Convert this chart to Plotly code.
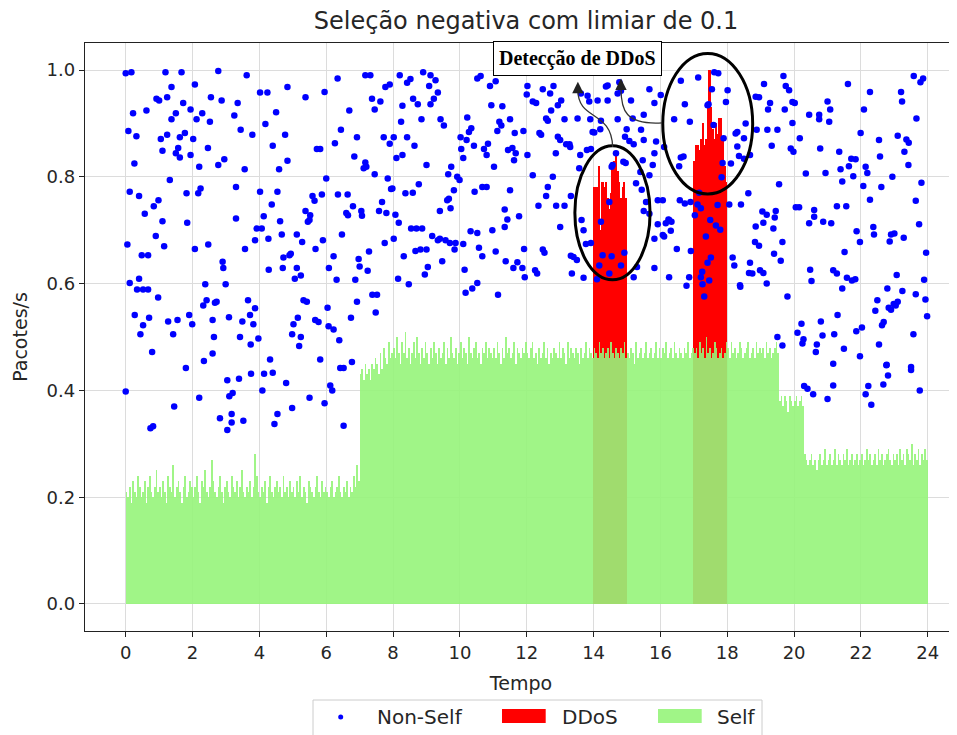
import plotly.graph_objects as go

# ---------------- data ----------------
# Non-Self detections (time, packets/s), left half of the chart
nonself_left = [
 (0.00,0.994),(0.17,0.996),(1.19,0.996),(1.67,0.996),(2.77,0.998),(3.62,0.99),(4.02,0.958),(4.24,0.958),
 (4.84,0.968),(5.38,0.949),(5.95,0.959),(6.34,0.984),(7.17,0.99),(7.32,0.99),(8.20,0.99),(8.42,0.976),
 (8.52,0.983),(8.90,0.996),(9.12,0.99),(9.27,0.981),(9.08,0.97),(9.34,0.958),(10.52,0.984),(10.62,0.989),
 (10.90,0.97),(11.07,0.979),(12.02,0.97),(1.37,0.968),(2.07,0.973),(0.92,0.946),(1.00,0.943),(1.24,0.949),
 (1.72,0.938),(2.55,0.949),(2.87,0.943),(3.35,0.938),(0.22,0.919),(0.62,0.924),(1.94,0.926),(2.29,0.919),
 (1.50,0.919),(1.37,0.908),(2.12,0.908),(2.52,0.903),(3.25,0.915),(4.50,0.921),(4.18,0.899),(3.44,0.888),
 (3.79,0.879),(4.77,0.879),(4.40,0.858),(6.69,0.924),(7.37,0.946),(7.62,0.941),(7.45,0.926),(7.77,0.968),
 (7.90,0.973),(8.28,0.933),(8.60,0.946),(8.74,0.936),(9.12,0.936),(9.22,0.946),(8.24,0.903),(8.85,0.908),
 (9.42,0.908),(9.52,0.896),(10.22,0.911),(10.34,0.891),(10.27,0.884),(10.94,0.934),(11.27,0.932),(11.18,0.903),
 (11.24,0.896),(11.50,0.908),(11.12,0.886),(11.64,0.882),(11.90,0.886),(12.00,0.954),(0.08,0.886),(0.32,0.876),
 (1.05,0.871),(1.24,0.879),(1.62,0.874),(1.77,0.882),(2.02,0.871),(1.10,0.849),(1.57,0.854),(1.50,0.844),
 (1.62,0.836),(1.94,0.841),(2.46,0.854),(2.20,0.819),(2.77,0.822),(2.95,0.833),(0.26,0.825),(3.56,0.814),
 (4.59,0.814),(4.84,0.83),(5.72,0.852),(5.82,0.852),(6.26,0.863),(6.44,0.888),(6.92,0.874),(6.84,0.838),
 (7.17,0.827),(7.12,0.816),(7.20,0.819),(7.45,0.805),(7.72,0.874),(7.90,0.862),(8.02,0.874),(8.42,0.874),
 (8.64,0.858),(8.10,0.835),(8.28,0.841),(9.00,0.822),(10.02,0.874),(10.20,0.869),(10.04,0.852),(10.42,0.858),
 (10.10,0.835),(10.72,0.852),(10.80,0.841),(10.84,0.862),(11.02,0.819),(11.44,0.85),(11.57,0.854),(11.67,0.844),
 (11.62,0.831),(12.02,0.841),(9.65,0.805),(9.74,0.819),(9.92,0.80),(9.99,0.794),(1.32,0.794),(6.00,0.797),
 (7.84,0.797),(0.12,0.772),(0.40,0.764),(0.98,0.756),(0.84,0.745),(0.57,0.731),(1.10,0.717),(1.82,0.769),
 (2.17,0.769),(2.24,0.778),(3.30,0.781),(3.30,0.722),(1.84,0.714),(4.02,0.772),(4.54,0.772),(4.37,0.748),
 (4.13,0.726),(4.62,0.717),(3.92,0.703),(4.07,0.703),(3.87,0.681),(4.27,0.684),(4.67,0.692),(3.57,0.665),
 (5.12,0.692),(5.28,0.678),(5.59,0.764),(5.65,0.755),(5.87,0.767),(5.38,0.736),(5.52,0.728),(5.50,0.719),
 (5.45,0.716),(6.35,0.767),(6.64,0.767),(6.80,0.745),(6.60,0.732),(6.65,0.728),(7.05,0.736),(7.07,0.727),
 (6.47,0.692),(5.90,0.681),(5.68,0.665),(7.67,0.753),(7.58,0.736),(7.80,0.732),(8.07,0.729),(8.17,0.714),
 (7.94,0.777),(7.98,0.778),(8.37,0.769),(8.59,0.77),(8.77,0.786),(7.75,0.676),(8.02,0.684),(8.54,0.703),
 (8.70,0.703),(8.87,0.703),(9.17,0.689),(9.34,0.681),(9.40,0.684),(9.57,0.681),(9.70,0.676),(9.84,0.664),
 (9.87,0.676),(10.10,0.674),(8.67,0.661),(8.82,0.664),(9.00,0.664),(9.40,0.736),(9.62,0.756),(9.72,0.741),
 (9.67,0.759),(9.82,0.775),(10.44,0.772),(10.67,0.781),(10.80,0.781),(11.50,0.775),(11.34,0.739),(11.42,0.72),
 (11.34,0.706),(11.77,0.726),(10.97,0.70),(10.32,0.698),(10.52,0.695),(10.57,0.667),(10.67,0.651),(11.07,0.66),
 (11.92,0.665),(11.37,0.642),(11.72,0.64),(11.60,0.629),(11.87,0.629),(11.94,0.612),(10.14,0.626),(10.17,0.583),
 (10.37,0.591),(10.52,0.601),(11.14,0.579),(0.05,0.673),(0.48,0.653),(0.67,0.653),(1.15,0.67),(0.90,0.689),
 (2.07,0.665),(2.47,0.673),(2.90,0.641),(2.92,0.629),(2.99,0.599),(2.38,0.599),(0.12,0.601),(0.40,0.609),
 (0.34,0.589),(0.52,0.589),(0.67,0.589),(0.97,0.574),(0.27,0.541),(0.52,0.522),(0.70,0.536),(0.44,0.505),
 (0.79,0.472),(1.27,0.529),(1.55,0.532),(1.42,0.505),(1.90,0.541),(1.99,0.524),(2.32,0.559),(2.42,0.569),
 (2.67,0.564),(2.72,0.566),(2.60,0.532),(2.64,0.50),(2.60,0.469),(2.34,0.455),(1.80,0.442),(3.09,0.537),
 (3.49,0.529),(3.72,0.541),(3.87,0.554),(3.82,0.524),(3.66,0.569),(3.42,0.50),(3.74,0.486),(3.97,0.497),
 (4.32,0.458),(4.72,0.649),(4.90,0.653),(4.94,0.656),(4.70,0.629),(4.28,0.626),(5.12,0.629),(5.06,0.609),
 (5.24,0.615),(6.08,0.629),(6.22,0.651),(6.31,0.607),(6.87,0.607),(6.97,0.646),(7.00,0.632),(7.24,0.624),
 (7.28,0.66),(5.32,0.569),(5.42,0.566),(5.15,0.536),(5.02,0.524),(4.98,0.505),(5.24,0.50),(5.19,0.483),
 (5.67,0.532),(5.77,0.528),(6.04,0.555),(6.07,0.52),(6.22,0.514),(6.39,0.494),(5.82,0.458),(6.92,0.566),
 (6.74,0.536),(7.38,0.579),(7.52,0.579),(7.48,0.546),(8.15,0.609),(8.47,0.599),(8.32,0.651),(8.95,0.617),
 (9.04,0.631),(9.47,0.642),(6.42,0.442),(6.52,0.442),(6.77,0.453),
 (0.00,0.398),(2.20,0.386),(1.45,0.37),(0.74,0.329),(0.82,0.333),(2.82,0.348),(3.04,0.419),(3.39,0.422),
 (3.10,0.389),(3.20,0.395),(3.17,0.356),(3.17,0.34),(3.04,0.326),(3.52,0.343),(3.75,0.431),(4.14,0.431),
 (4.40,0.433),(4.09,0.40),(4.80,0.414),(4.54,0.356),(4.45,0.337),(4.98,0.367),(5.50,0.386),(5.95,0.376),
 (6.12,0.409),(6.18,0.40),(6.52,0.334),
]

# Non-Self detections, right half of the chart
nonself_right = [
 (12.48,0.964),(12.70,0.956),(12.80,0.97),(12.18,0.941),(12.28,0.938),(12.93,0.934),(12.73,0.924),(13.03,0.943),
 (12.58,0.909),(12.63,0.905),(13.13,0.908),(13.52,0.909),(12.43,0.879),(12.38,0.882),(12.93,0.875),(13.00,0.869),
 (13.18,0.861),(13.30,0.856),(13.28,0.861),(12.87,0.844),(12.18,0.803),(12.78,0.80),(12.63,0.781),(12.58,0.764),
 (12.35,0.746),(12.88,0.746),(13.13,0.746),(13.32,0.764),(13.00,0.706),(12.48,0.664),(12.53,0.658),(12.25,0.625),
 (12.31,0.619),(13.32,0.652),(13.50,0.644),(13.40,0.65),(13.35,0.619),(13.70,0.611),(13.62,0.956),(13.82,0.952),
 (13.87,0.941),(14.12,0.943),(14.42,0.943),(14.37,0.969),(14.42,0.971),(13.90,0.908),(14.22,0.905),(14.20,0.889),
 (14.02,0.883),(13.97,0.884),(13.80,0.85),(13.92,0.852),(13.57,0.816),(13.60,0.841),(14.72,0.908),(14.99,0.889),
 (14.94,0.875),(15.07,0.867),(15.20,0.861),(14.77,0.977),(15.12,0.943),(14.72,0.956),(14.82,0.961),(15.50,0.916),
 (15.82,0.938),(15.67,0.964),(16.01,0.953),(15.17,0.909),(15.42,0.888),(15.50,0.869),(15.87,0.866),(15.82,0.844),
 (16.11,0.856),(14.96,0.826),(14.89,0.828),(15.47,0.831),(15.40,0.809),(15.77,0.822),(14.57,0.822),(14.54,0.819),
 (14.67,0.844),(15.67,0.803),(15.27,0.788),(15.44,0.776),(15.92,0.756),(16.07,0.756),(15.67,0.731),(15.50,0.736),
 (15.57,0.753),(15.92,0.711),(16.07,0.691),(16.11,0.688),(16.26,0.719),(16.33,0.716),(16.31,0.699),(16.16,0.713),
 (16.24,0.72),(16.58,0.756),(16.73,0.75),(16.90,0.753),(14.47,0.753),(14.22,0.716),(13.64,0.719),(13.70,0.70),
 (13.92,0.676),(13.77,0.674),(14.27,0.653),(14.54,0.651),(14.92,0.658),(14.17,0.634),(14.47,0.619),(14.82,0.634),
 (14.10,0.608),(15.20,0.612),(15.30,0.631),(15.82,0.629),(16.26,0.612),(15.82,0.684),(16.49,0.665),(16.91,0.661),
 (16.86,0.612),(16.78,0.596),(16.61,0.98),(17.13,0.986),(17.61,0.996),(17.73,0.994),(17.54,0.964),(18.01,0.962),
 (17.96,0.94),(16.73,0.936),(16.41,0.908),(16.88,0.903),(17.41,0.934),(17.59,0.897),(17.89,0.872),(18.25,0.881),
 (18.30,0.884),(18.55,0.90),(18.50,0.872),(18.30,0.857),(18.35,0.839),(18.68,0.841),(18.50,0.834),(17.86,0.826),
 (18.11,0.825),(17.83,0.799),(16.61,0.836),(16.69,0.838),(16.56,0.82),(18.85,0.95),(18.95,0.949),(19.10,0.974),
 (19.68,0.989),(19.75,0.97),(19.85,0.962),(19.95,0.94),(20.02,0.938),(19.28,0.938),(19.22,0.926),(19.72,0.926),
 (19.95,0.901),(18.88,0.888),(19.20,0.888),(19.50,0.888),(19.33,0.858),(20.17,0.872),(19.90,0.853),(19.98,0.847),
 (20.45,0.916),(20.75,0.916),(20.75,0.908),(21.05,0.903),(21.08,0.926),(21.00,0.941),(21.61,0.974),(22.27,0.959),
 (22.09,0.926),(21.99,0.882),(22.54,0.869),(22.57,0.838),(23.20,0.959),(23.23,0.941),(23.10,0.877),(23.36,0.87),
 (23.43,0.864),(23.30,0.847),(23.42,0.822),(23.58,0.989),(23.86,0.984),(23.78,0.977),(23.66,0.909),(20.78,0.853),
 (21.35,0.847),(20.35,0.806),(20.94,0.807),(21.39,0.814),(21.64,0.82),(21.71,0.834),(21.84,0.833),(21.77,0.801),
 (21.44,0.791),(22.14,0.819),(22.19,0.807),(22.07,0.783),(22.27,0.757),(22.61,0.781),(22.94,0.80),(23.81,0.789),
 (23.64,0.755),(23.74,0.711),(19.55,0.786),(18.63,0.769),(18.41,0.748),(18.06,0.748),(19.05,0.735),(19.18,0.729),
 (19.45,0.736),(19.42,0.724),(19.38,0.703),(19.08,0.714),(18.85,0.707),(20.05,0.743),(20.15,0.743),(20.60,0.738),
 (20.60,0.725),(20.45,0.713),(20.87,0.716),(21.11,0.713),(21.28,0.745),(21.56,0.745),(21.87,0.698),(21.97,0.678),
 (22.37,0.706),(22.39,0.692),(22.90,0.692),(22.86,0.679),(23.28,0.686),(23.00,0.694),(23.95,0.658),(18.83,0.678),
 (18.95,0.671),(19.65,0.678),(19.40,0.656),(19.60,0.643),(18.16,0.649),(18.21,0.634),(18.68,0.639),(18.65,0.62),
 (18.75,0.619),(18.98,0.625),(19.08,0.62),(18.38,0.597),(18.39,0.594),(19.18,0.60),(19.80,0.576),(20.48,0.626),
 (20.52,0.605),(21.17,0.625),(21.51,0.659),(21.28,0.619),(21.58,0.611),(21.73,0.606),(21.83,0.608),(21.44,0.591),
 (23.07,0.616),(22.79,0.591),(23.24,0.586),(23.64,0.58),(23.89,0.607),(22.49,0.569),(23.10,0.566),(23.04,0.559),
 (22.98,0.562),(22.90,0.551),(22.83,0.555),(22.43,0.549),(22.68,0.528),(22.63,0.522),(23.98,0.539),(23.93,0.57),
 (23.57,0.505),(21.30,0.541),(22.03,0.518),(21.86,0.511),(21.20,0.505),(20.85,0.503),(20.80,0.529),(20.68,0.486),
 (20.65,0.472),(20.22,0.525),(20.10,0.508),(20.28,0.496),(20.25,0.488),(19.50,0.50),(19.65,0.484),(21.17,0.45),
 (21.97,0.464),(22.54,0.486),(22.77,0.448),(23.50,0.444),
 (17.44,0.936),(17.21,0.741),(17.11,0.748),(17.03,0.728),(17.36,0.688),(17.49,0.719),(17.66,0.709),(17.79,0.701),
 (17.51,0.649),(17.41,0.639),(17.25,0.622),(17.21,0.612),(17.26,0.599),(17.31,0.576),(17.46,0.606),(17.71,0.747),
 (17.16,0.77),
 (20.30,0.408),(20.40,0.403),(20.57,0.393),(21.00,0.384),(21.17,0.409),(22.22,0.408),(22.14,0.393),(22.31,0.373),
 (22.67,0.411),(23.76,0.40),(23.50,0.438),(22.76,0.447),(22.81,0.428),(21.49,0.478),
]

# Self traffic, packets/s x100, one value per 0.05 time unit, one row per unit of time (0..24)
self_step = 0.05
self_rows = [
 [21,20,22,19,23,21,20,24,22,20,21,23,19,22,24,21,20,22,25,21],
 [22,20,23,21,19,24,22,21,26,20,22,23,21,19,22,24,20,21,23,22],
 [20,22,24,21,19,23,22,25,21,20,22,27,23,21,20,22,24,21,19,22],
 [23,21,20,24,22,21,23,20,22,25,21,20,22,21,23,20,22,28,24,21],
 [20,22,21,23,19,22,24,21,20,22,23,21,22,20,24,21,22,20,23,21],
 [22,20,23,21,24,20,22,21,19,23,22,21,20,22,24,21,20,23,21,22],
 [21,20,22,23,20,21,22,24,21,20,22,21,23,20,22,21,24,22,26,23],
 [43,44,42,45,43,44,42,45,44,46,45,43,47,44,48,46,45,49,46,47],
 [48,46,50,47,45,49,47,51,46,48,45,47,49,46,50,47,45,48,46,49],
 [47,45,48,46,49,47,45,48,46,47,49,45,48,46,50,47,46,48,45,47],
 [49,46,48,47,45,50,47,46,48,49,46,47,45,48,47,49,46,48,47,46],
 [48,46,49,47,45,48,46,50,47,48,46,47,49,45,48,47,46,48,47,49],
 [47,46,48,49,46,47,45,48,46,47,49,46,48,45,47,46,48,47,46,49],
 [46,48,47,45,49,46,48,47,46,48,47,45,48,46,47,49,46,48,47,46],
 [48,47,46,49,47,48,46,47,48,46,49,47,46,48,47,46,48,47,49,46],
 [47,46,48,47,45,49,46,47,48,46,47,49,46,47,48,46,47,49,46,48],
 [46,48,47,49,46,47,48,46,49,47,46,48,47,46,48,47,49,46,47,48],
 [47,48,46,49,47,48,46,50,47,48,46,47,49,48,46,47,48,46,47,49],
 [48,46,49,47,48,46,47,49,48,46,47,48,49,46,47,48,46,49,47,48],
 [47,48,46,49,47,48,46,47,48,49,47,38,39,37,39,38,36,39,38,37],
 [38,39,37,38,39,37,28,27,26,27,28,26,27,25,27,28,26,27,29,26],
 [27,28,26,27,29,26,28,27,26,28,27,29,26,27,28,26,27,28,26,27],
 [28,26,27,29,27,28,26,27,28,26,29,27,28,26,27,28,29,27,26,28],
 [27,28,26,29,27,28,26,29,28,27,30,26,28,27,29,26,28,27,29,27],
]

# DDoS bursts, packets/s x100, 0.05 time unit per value
ddos1_start = 14.0
ddos1_vals = [78,78,78,82,70,79,78,79,76,74,77,82,83,84,81,79,76,78,79,76]
ddos2_start = 17.0
ddos2_vals = [83,86,86,85,87,90,86,87,94,100,93,89,87,90,88,91,91,87,82,79]

x_ticks = list(range(0, 25, 2))
y_ticks = [0.0, 0.2, 0.4, 0.6, 0.8, 1.0]
legend_labels = ["Non-Self", "DDoS", "Self"]

# ---------------- build traces ----------------
self_vals = [v / 100 for row in self_rows for v in row]
self_x = [i * self_step + self_step / 2 for i in range(len(self_vals))]

d1x = [ddos1_start + i * self_step + self_step / 2 for i in range(len(ddos1_vals))]
d2x = [ddos2_start + i * self_step + self_step / 2 for i in range(len(ddos2_vals))]
ddos_x = d1x + d2x
ddos_y = [v / 100 for v in ddos1_vals + ddos2_vals]

pts = nonself_left + nonself_right
ns_x = [p[0] for p in pts]
ns_y = [p[1] for p in pts]

FONT = "DejaVu Sans"
TXT = "#262626"
SELF_COLOR = "rgba(150,244,122,0.9)"

# page geometry (the page body has an 8px margin)
W, H = 949, 727
ML, MR, MT, MB = 77, 0, 35, 104
PW, PH = W - ML - MR, H - MT - MB


def px(X):  # absolute screen x -> paper x
    return (X - 8 - ML) / PW


def py(Y):  # absolute screen y -> paper y
    return (H - MB - (Y - 8)) / PH


fig = go.Figure()

fig.add_trace(go.Bar(
    x=ddos_x, y=ddos_y, width=self_step, name=legend_labels[1], showlegend=False,
    marker=dict(color="rgb(255,0,0)", line=dict(width=0)),
))
fig.add_trace(go.Bar(
    x=self_x, y=self_vals, width=self_step, name=legend_labels[2], showlegend=False,
    marker=dict(color=SELF_COLOR, line=dict(width=0)),
))
fig.add_trace(go.Scatter(
    x=ns_x, y=ns_y, mode="markers", name=legend_labels[0], showlegend=False,
    marker=dict(color="rgb(0,0,255)", size=6.5, line=dict(width=0)),
))

# ellipses around detections
for (x0, x1, y0, y1) in [(13.44, 15.69, 0.607, 0.858), (16.07, 18.76, 0.768, 1.031)]:
    fig.add_shape(type="circle", xref="x", yref="y", x0=x0, x1=x1, y0=y0, y1=y1,
                  line=dict(color="black", width=3), layer="above")

# curved connectors
fig.add_shape(type="path", xref="x", yref="y",
              path="M 14.57,0.856 C 14.54,0.925 13.53,0.905 13.53,0.962",
              line=dict(color="#333333", width=1.3))
fig.add_shape(type="path", xref="x", yref="y",
              path="M 16.05,0.901 C 14.94,0.897 14.82,0.925 14.82,0.966",
              line=dict(color="#333333", width=1.3))
for tx, ty in [(13.53, 0.978), (14.82, 0.984)]:
    fig.add_annotation(x=tx, y=ty, xref="x", yref="y", ax=0, ay=11, text="",
                       showarrow=True, arrowhead=2, arrowsize=1.9, arrowwidth=1.2,
                       arrowcolor="#222222")

fig.add_annotation(x=13.52, y=1.0215, xref="x", yref="y",
                   text="<b>Detecção de DDoS</b>", showarrow=False,
                   font=dict(family="Liberation Serif", size=20, color="black"),
                   bgcolor="white", bordercolor="black", borderwidth=1, borderpad=5)

# legend (drawn to match the reference layout)
fig.add_shape(type="rect", xref="paper", yref="paper", x0=px(313), x1=px(762),
              y0=py(748), y1=py(700), line=dict(color="#cccccc", width=1),
              fillcolor="white", layer="above")
fig.add_shape(type="circle", xref="paper", yref="paper", x0=px(338.2), x1=px(343.2),
              y0=py(719.5), y1=py(714.5), line=dict(width=0), fillcolor="rgb(0,0,255)",
              layer="above")
fig.add_shape(type="rect", xref="paper", yref="paper", x0=px(502), x1=px(545.7),
              y0=py(723), y1=py(709), line=dict(width=0), fillcolor="rgb(255,0,0)",
              layer="above")
fig.add_shape(type="rect", xref="paper", yref="paper", x0=px(658), x1=px(701.7),
              y0=py(723), y1=py(709), line=dict(width=0), fillcolor=SELF_COLOR,
              layer="above")
for lbl, X in zip(legend_labels, [375, 560, 715]):
    fig.add_annotation(x=px(X), y=py(717), xref="paper", yref="paper", text=lbl,
                       showarrow=False, xanchor="left", yanchor="middle",
                       font=dict(family=FONT, size=20, color=TXT))

fig.update_layout(
    width=W, height=H,
    margin=dict(l=ML, r=MR, t=MT, b=MB, autoexpand=False),
    paper_bgcolor="white", plot_bgcolor="white",
    barmode="overlay", bargap=0,
    font=dict(family=FONT, size=18, color=TXT),
    title=dict(text="Seleção negativa com limiar de 0.1", x=(526 - 8) / W, xref="container",
               xanchor="center", y=1 - 13 / H, yref="container", yanchor="middle",
               font=dict(family=FONT, size=24, color=TXT)),
    showlegend=False,
)
fig.update_xaxes(
    range=[-1.218, 24.874], tickvals=x_ticks, ticktext=[str(t) for t in x_ticks],
    showgrid=True, gridcolor="#dcdcdc", gridwidth=1, zeroline=False,
    showline=True, linecolor="#222222", linewidth=1.3, mirror=True,
    ticks="outside", ticklen=5, tickcolor="#222222", tickfont=dict(size=18),
    title=dict(text="Tempo", font=dict(size=19), standoff=14), automargin=False,
)
fig.update_yaxes(
    range=[-0.0506, 1.0506], tickvals=y_ticks, ticktext=[f"{t:.1f}" for t in y_ticks],
    showgrid=True, gridcolor="#dcdcdc", gridwidth=1, zeroline=False,
    showline=True, linecolor="#222222", linewidth=1.3, mirror=False,
    ticks="outside", ticklen=5, tickcolor="#222222", tickfont=dict(size=18),
    title=dict(text="Pacotes/s", font=dict(size=19), standoff=13), automargin=False,
)

fig.write_html("out.html")
